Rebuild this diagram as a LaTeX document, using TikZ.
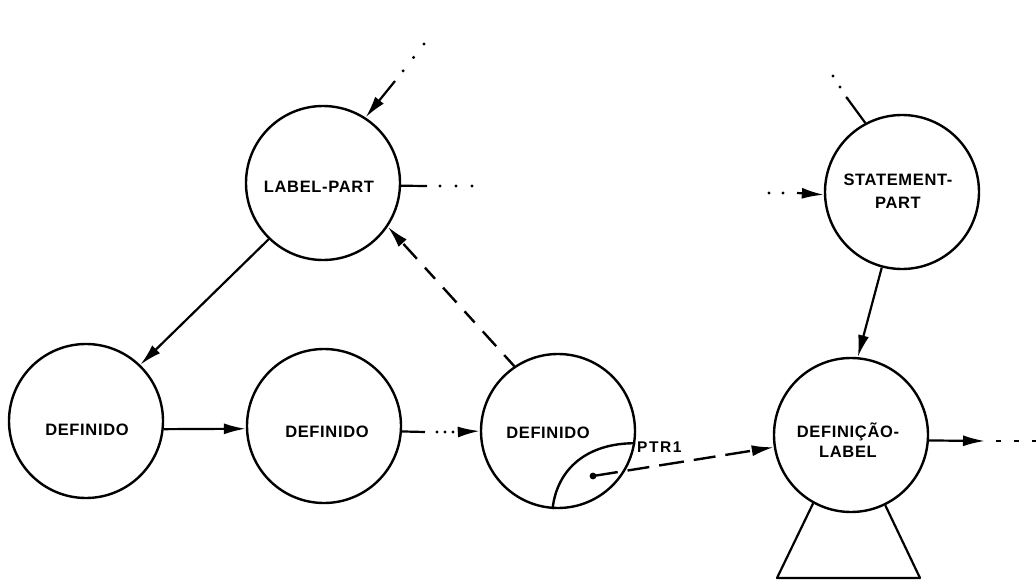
\documentclass[tikz,border=0pt]{standalone}
\usepackage{fontspec}
\newfontfamily\lettering{Liberation Sans}[LetterSpace=4]
\newfontfamily\widelettering{Liberation Sans}[LetterSpace=10]
\usetikzlibrary{arrows.meta}
\begin{document}
\begin{tikzpicture}[x=1pt,y=-1pt,
  state/.style={circle,draw,line width=2.4pt,minimum size=154pt,inner sep=0pt},
  lbl/.style={font=\lettering\bfseries\fontsize{16.5}{20}\selectfont,align=center,inner sep=0pt},
  tip/.style={-{Latex[length=22pt,width=11pt]}},
  conn/.style={line width=2.2pt,tip},
  plain/.style={line width=2.2pt},
  dotline/.style={line width=3.4pt,line cap=round,dash pattern=on 0pt off #1},
  dotline/.default=13pt,
  dashconn/.style={line width=2.4pt,tip,dash pattern=on #1},
]
\useasboundingbox (0,0) rectangle (1036,583);

% states
\node[state] (lp) at (323,183) {};
\node[state] (d1) at (86,421) {};
\node[state] (d2) at (324,426) {};
\node[state] (d3) at (558,431) {};
\node[state] (sp) at (902,192) {};
\node[state] (dl) at (851,435) {};

% state names
\node[lbl] (lpT) at (319,187) {LABEL-PART};
\node[lbl] (d1T) at (87,430) {DEFINIDO};
\node[lbl] (d2T) at (327,432) {DEFINIDO};
\node[lbl] (d3T) at (548,433) {DEFINIDO};
\node[lbl,font=\lettering\bfseries\fontsize{16.5}{23}\selectfont] (spT) at (898,191) {STATEMENT-\\PART};
\node[lbl] (dlT) at (848,440) {DEFINIÇÃO-\\LABEL};

% incoming to LABEL-PART from above
\coordinate (a1) at (424,44);
\coordinate (a2) at (395,81);
\draw[dotline=17pt] (a1) -- (403,71);
\draw[conn] (a2) -- (lp.57.5);

% LABEL-PART outgoing to the right
\coordinate (b1) at (427,186);
\draw[plain] (lp.-2) -- (b1);
\draw[dotline=16pt] (440,186) -- (472.2,186);

% LABEL-PART -> DEFINIDO
\draw[conn] (lp.226) -- (d1.46);

% DEFINIDO -> DEFINIDO
\draw[conn] (d1.-6) -- (d2.182);

% DEFINIDO -> DEFINIDO (partly dotted)
\coordinate (c1) at (425,432);
\coordinate (c2) at (458,432);
\draw[plain] (d2.-4.5) -- (c1);
\draw[dotline=8pt] (437,432) -- (453.2,432);
\draw[conn] (c2) -- (d3.180);

% DEFINIDO -> LABEL-PART (dashed)
\draw[dashconn={15pt off 12pt on 20pt off 12pt}] (d3.124) -- (lp.-34.5);

% pointer region inside the third DEFINIDO
\draw[line width=2.4pt] (d3.266) .. controls (557,468) and (588,443) .. (d3.-9);
\coordinate (ptr) at (593,476);
\fill (ptr) circle (3.4pt);
\node[font=\widelettering\bfseries\fontsize{15.5}{18}\selectfont,anchor=west,inner sep=0pt] (ptrT) at (637,447) {PTR1};
\draw[dashconn={25pt off 10pt on 22pt off 10pt}] (ptr) -- (dl.189);

% STATEMENT-PART connections
\coordinate (e1) at (833,76);
\coordinate (e2) at (847,98);
\draw[dotline] (e1) -- (e2);
\draw[plain] (e2) -- (sp.118);

\coordinate (f1) at (769,193);
\coordinate (f2) at (797,193);
\draw[dotline=14pt] (f1) -- (f2);
\draw[conn] (f2) -- (sp.182);

\draw[conn] (sp.255.5) -- (dl.85);

% DEFINICAO-LABEL outgoing
\coordinate (g1) at (985,441);
\draw[conn] (dl.-4) -- (g1);
\draw[line width=2.4pt,dash pattern=on 5pt off 13pt] (996,441) -- (1036,441);

% subtree below DEFINICAO-LABEL
\draw[line width=2.2pt,line join=round] (dl.241.5) -- (777,578) -- (920,578) -- (dl.296);
\end{tikzpicture}
\end{document}
